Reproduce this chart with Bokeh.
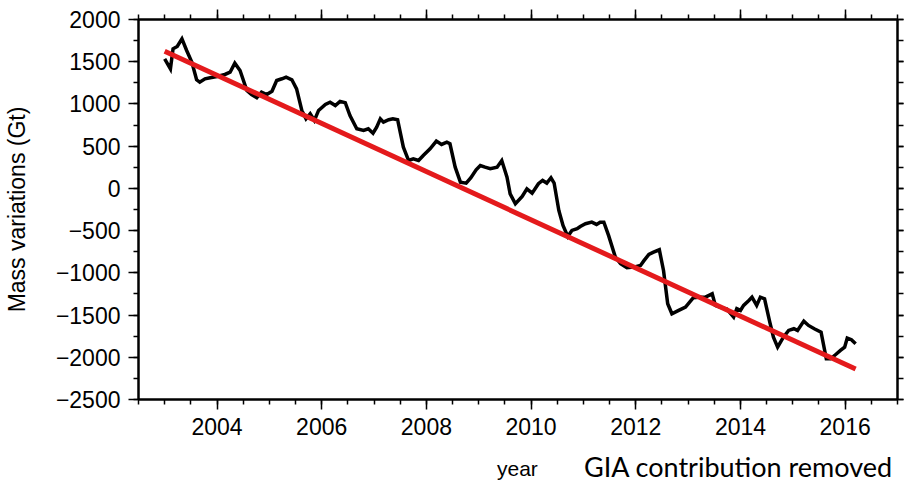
from bokeh.plotting import figure
from bokeh.models import LinearAxis, FixedTicker, Range1d, Div, Spacer
from bokeh.layouts import column, row
from bokeh.embed import file_html
from bokeh.resources import INLINE

# ---- data ----
years = [2003.00, 2003.11, 2003.16, 2003.24, 2003.33, 2003.42, 2003.52, 2003.61, 2003.67, 2003.77,
         2003.87, 2004.00, 2004.15, 2004.25, 2004.34, 2004.44, 2004.57, 2004.66, 2004.76, 2004.85,
         2004.95, 2005.05, 2005.14, 2005.24, 2005.32, 2005.43, 2005.52, 2005.62, 2005.70, 2005.78,
         2005.86, 2005.94, 2006.07, 2006.16, 2006.26, 2006.35, 2006.45, 2006.54, 2006.67, 2006.80,
         2006.89, 2006.98, 2007.05, 2007.12, 2007.18, 2007.28, 2007.36, 2007.45, 2007.56, 2007.66,
         2007.75, 2007.85, 2007.94, 2008.07, 2008.19, 2008.29, 2008.39, 2008.45, 2008.55, 2008.65,
         2008.76, 2008.85, 2008.95, 2009.03, 2009.12, 2009.22, 2009.35, 2009.44, 2009.54, 2009.60,
         2009.70, 2009.83, 2009.92, 2010.02, 2010.14, 2010.22, 2010.30, 2010.38, 2010.44, 2010.53,
         2010.61, 2010.70, 2010.78, 2010.88, 2010.94, 2011.04, 2011.16, 2011.25, 2011.32, 2011.39,
         2011.48, 2011.61, 2011.71, 2011.83, 2011.96, 2012.09, 2012.16, 2012.25, 2012.34, 2012.45,
         2012.53, 2012.61, 2012.69, 2012.82, 2012.95, 2013.10, 2013.20, 2013.33, 2013.46, 2013.52,
         2013.62, 2013.74, 2013.87, 2013.93, 2014.00, 2014.06, 2014.16, 2014.22, 2014.31, 2014.38,
         2014.46, 2014.56, 2014.63, 2014.71, 2014.82, 2014.92, 2015.02, 2015.09, 2015.21, 2015.30,
         2015.41, 2015.54, 2015.64, 2015.72, 2015.82, 2015.91, 2015.99, 2016.04, 2016.12, 2016.20]
mass = [1535, 1416, 1653, 1680, 1771, 1633, 1494, 1286, 1258, 1298,
        1310, 1325, 1349, 1376, 1483, 1396, 1159, 1112, 1073, 1140,
        1112, 1151, 1278, 1298, 1317, 1286, 1179, 923, 824, 883,
        804, 923, 994, 1021, 982, 1030, 1015, 863, 706, 686,
        706, 654, 725, 824, 784, 813, 824, 813, 488, 330,
        350, 330, 390, 469, 560, 520, 547, 528, 251, 74,
        62, 126, 220, 271, 251, 232, 251, 330, 133, -64,
        -182, -96, -5, -57, 55, 94, 63, 126, 63, -261,
        -439, -569, -498, -478, -451, -419, -400, -427, -400, -400,
        -557, -814, -893, -940, -932, -913, -853, -782, -755, -727,
        -972, -1366, -1485, -1445, -1406, -1295, -1288, -1288, -1248, -1386,
        -1410, -1430, -1525, -1425, -1445, -1386, -1327, -1288, -1386, -1288,
        -1307, -1584, -1762, -1880, -1762, -1682, -1662, -1682, -1572, -1623,
        -1662, -1702, -2018, -2018, -1967, -1919, -1880, -1773, -1792, -1840]

trend_years = [2003.0, 2016.2]
trend_mass = [1625, -2140]

x_major = [2004, 2006, 2008, 2010, 2012, 2014, 2016]
y_major = [-2500, -2000, -1500, -1000, -500, 0, 500, 1000, 1500, 2000]

y_label = "Mass variations (Gt)"
x_label = "year"
note = "GIA contribution removed"

# ---- figure ----
FONT = "Liberation Sans"
p = figure(width=904, height=452, output_backend="svg", toolbar_location=None,
           x_range=Range1d(2002.5, 2017.0), y_range=Range1d(-2500, 2000),
           min_border_left=137, min_border_right=7, min_border_top=19, min_border_bottom=53,
           background_fill_color="white", border_fill_color="white")
p.grid.visible = False
p.outline_line_color = "black"
p.outline_line_width = 2
p.outline_line_alpha = 1

x_minor = [2002.5 + 0.5 * i for i in range(30)]
y_minor = [-2500 + 250 * i for i in range(19)]
xt = FixedTicker(ticks=x_major, minor_ticks=x_minor)
yt = FixedTicker(ticks=y_major, minor_ticks=y_minor)


def style(ax, ticker, size_out, minor_out):
    ax.ticker = ticker
    ax.axis_line_color = "black"
    ax.axis_line_width = 2
    ax.major_tick_line_color = "black"
    ax.major_tick_line_width = 1.5
    ax.minor_tick_line_color = "black"
    ax.minor_tick_line_width = 1.5
    ax.major_tick_in = 0
    ax.major_tick_out = size_out
    ax.minor_tick_in = 0
    ax.minor_tick_out = minor_out
    ax.major_label_text_font = FONT
    ax.major_label_text_font_size = "23px"
    ax.major_label_text_color = "black"
    ax.axis_label_text_font = FONT
    ax.axis_label_text_font_style = "normal"
    ax.axis_label_text_color = "black"


xa = p.xaxis[0]
style(xa, xt, 10, 5)
xa.major_label_standoff = 8

ya = p.yaxis[0]
style(ya, yt, 10, 5)
ya.major_label_standoff = 8
ya.major_label_overrides = {v: str(v).replace("-", "\u2212") for v in y_major}
ya.axis_label = y_label
ya.axis_label_text_font_size = "23px"
ya.axis_label_standoff = 23

top = LinearAxis()
style(top, xt, 10, 5)
top.major_label_overrides = {v: "" for v in x_major}
top.major_label_text_font_size = "1px"
top.major_label_standoff = 0
p.add_layout(top, "above")

right = LinearAxis()
style(right, yt, 6, 6)
right.major_label_overrides = {v: "" for v in y_major}
right.major_label_text_font_size = "1px"
right.major_label_standoff = 0
p.add_layout(right, "right")

p.line(years, mass, line_color="black", line_width=3.5, line_join="miter")
p.line(trend_years, trend_mass, line_color="#e41a1c", line_width=5)

# ---- bottom text line: axis title "year" and the note ----
ROW_H = 33
year_div = Div(text=x_label, width=60, height=ROW_H, margin=0,
               styles={"font-family": FONT, "font-size": "21px", "line-height": "%dpx" % ROW_H,
                       "color": "black", "white-space": "nowrap"})
note_div = Div(text=note, width=320, height=ROW_H, margin=0,
               styles={"font-family": "Lato", "font-size": "27px", "line-height": "%dpx" % (ROW_H - 4),
                       "color": "black", "white-space": "nowrap"})
bottom = row(Spacer(width=497, height=ROW_H, margin=0), year_div,
             Spacer(width=27, height=ROW_H, margin=0), note_div, spacing=0, margin=0)
layout = column(p, bottom, spacing=0, margin=0)

open("out.html", "w").write(file_html(layout, INLINE))
